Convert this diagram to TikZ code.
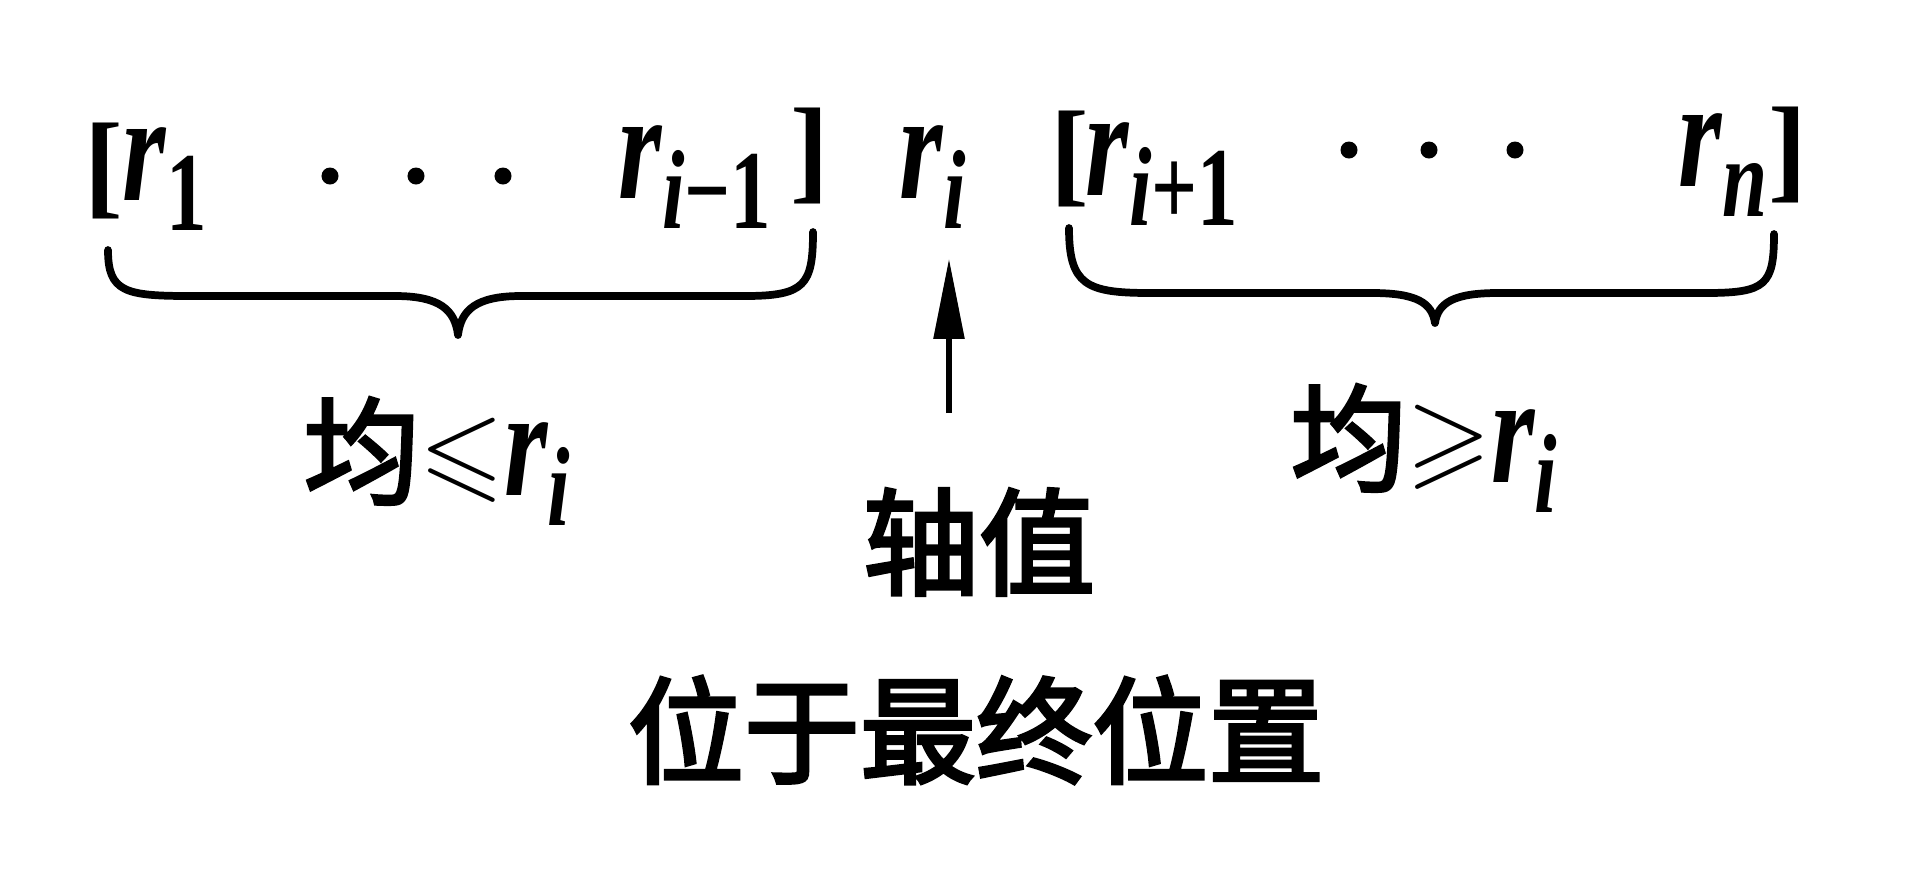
\RequirePackage{fix-cm}
\documentclass[tikz,border=0pt]{standalone}
\usepackage{graphicx}
\usepackage{fontspec}
\usepackage{amssymb}
\usetikzlibrary{arrows.meta}
\newfontfamily\cjk{Noto Sans CJK SC}[FakeBold=3]
\newfontfamily\rfont{Liberation Serif}
\newcommand\myr[1]{\scalebox{0.72}[1]{\rfont\bfseries\itshape\fontsize{44}{50}\selectfont r\raisebox{-0.3cm}{\fontsize{32}{32}\selectfont #1}}}
\newcommand\mybr[1]{{\rfont\bfseries\fontsize{33}{36}\selectfont #1}}
\newcommand\myrel[1]{\raisebox{0.08cm}{\fontsize{31}{31}\selectfont$#1$}}
\newcommand\cjkl[1]{{\cjk\fontsize{33}{40}\selectfont #1}}
\begin{document}
\begin{tikzpicture}[x=0.01cm,y=-0.01cm,
  lbl/.style={inner sep=0pt, anchor=base west},
  brc/.style={line width=2.2pt, line cap=round, line join=round},
  dotc/.style={circle, fill, inner sep=0pt, minimum size=0.17cm},
  cjkt/.style={inner sep=0pt, font=\cjk\fontsize{33}{40}\selectfont},
  arr/.style={line width=1.5pt, -{Triangle[length=0.8cm,width=0.3cm]}}]
\useasboundingbox[fill=white] (0,0) rectangle (1932,872);
% top row, left group
\node[lbl] (lb1) at (84,203) {\mybr{[}};
\node[lbl] (r1) at (122,200) {\myr{\upshape 1}};
\node[dotc] (d1) at (330,176) {};
\node[dotc] (d2) at (416,176) {};
\node[dotc] (d3) at (503,176) {};
\node[lbl] (rim) at (618,198) {\myr{i{\upshape −1}}};
\node[lbl] (rb1) at (790,188) {\mybr{]}};
% pivot
\node[lbl] (ri) at (899,198) {\myr{i}};
% right group
\node[lbl] (lb2) at (1050,191) {\mybr{[}};
\node[lbl] (rip) at (1085,195) {\myr{i{\upshape +1}}};
\node[dotc] (d4) at (1349,150) {};
\node[dotc] (d5) at (1429,150) {};
\node[dotc] (d6) at (1515,150) {};
\node[lbl] (rn) at (1678,186) {\myr{n}};
\node[lbl] (rb2) at (1768,187) {\mybr{]}};
% braces
\draw[brc] (108,250) .. controls (108,292) and (125,296) .. (190,296) -- (395,296)
  .. controls (440,296) and (455,310) .. (458,335)
  .. controls (461,310) and (476,296) .. (521,296) -- (745,296)
  .. controls (805,296) and (813,285) .. (813,232);
\draw[brc] (1069,228) .. controls (1069,285) and (1086,293) .. (1150,293) -- (1372,293)
  .. controls (1417,293) and (1432,303) .. (1435,323)
  .. controls (1438,303) and (1453,293) .. (1498,293) -- (1706,293)
  .. controls (1766,293) and (1774,285) .. (1774,234);
% arrow
\coordinate (atail) at (949,413);
\draw[arr, shorten >=0.3cm] (atail) -- (atail |- ri.south);
% labels
\node[lbl] (le) at (303,495) {\cjkl{均}\myrel{\leqslant}\myr{i}};
\node[lbl] (ge) at (1290,482) {\cjkl{均}\myrel{\geqslant}\myr{i}};
\node[cjkt] (pv) at (979,542) {轴值};
\node[cjkt] (pos) at (976,730) {位于最终位置};
\end{tikzpicture}
\end{document}
